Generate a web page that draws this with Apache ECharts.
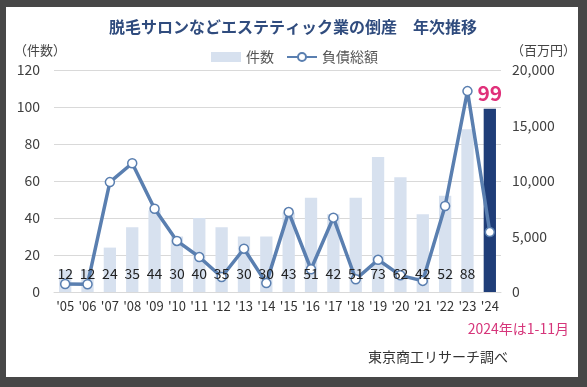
<!DOCTYPE html>
<html><head><meta charset="utf-8">
<script src="https://cdn.jsdelivr.net/npm/echarts@6/dist/echarts.min.js"></script>
<style>
html,body{margin:0;padding:0;background:#474747;}
#bg{position:absolute;left:6px;top:7px;width:572px;height:370px;background:#fff;}
#c{position:absolute;left:0;top:0;width:587px;height:387px;}
</style></head>
<body><div id="bg"></div><div id="c"></div>
<script>
const years = ["'05","'06","'07","'08","'09","'10","'11","'12","'13","'14","'15","'16","'17","'18","'19","'20","'21","'22","'23","'24"];
const counts = [12,12,24,35,44,30,40,35,30,30,43,51,42,51,73,62,42,52,88,99];
const debt = [720,700,9900,11600,7500,4600,3150,1350,3900,800,7200,2050,6700,1150,2900,1500,1000,7750,18100,5400];
const leftTicks = [0,20,40,60,80,100,120];
const rightTicks = [0,5000,10000,15000,20000];

const F = '"Noto Sans CJK JP","Noto Sans",sans-serif';
const chart = echarts.init(document.getElementById('c'));
const last = counts.length - 1;
chart.setOption({
  animation:false,
  textStyle:{fontFamily:F},
  grid:{left:54,right:86,top:70,bottom:95},
  legend:{left:206,top:45,itemWidth:30,itemHeight:10,itemGap:12,
    textStyle:{fontSize:14,color:'#555',fontFamily:F},
    data:[{name:'件数',icon:'rect'},{name:'負債総額'}]},
  xAxis:{type:'category',data:years,
    axisLine:{show:true,lineStyle:{color:'#d9d9d9'}},axisTick:{show:false},
    axisLabel:{fontSize:13,color:'#333',margin:8,interval:0,fontFamily:F}},
  yAxis:[
    {type:'value',min:0,max:120,interval:20,
     axisLabel:{fontSize:14,color:'#404040',margin:14,fontFamily:F},
     splitLine:{lineStyle:{color:'#d9d9d9'}},axisLine:{show:false},axisTick:{show:false}},
    {type:'value',min:0,max:20000,interval:5000,position:'right',
     axisLabel:{fontSize:14,color:'#404040',margin:11,fontFamily:F,
       formatter:v=>v.toLocaleString('en-US')},
     splitLine:{show:false},axisLine:{show:false},axisTick:{show:false}}
  ],
  series:[
    {name:'件数',type:'bar',z:1,barWidth:'55%',
     itemStyle:{color:'#d7e1ef'},
     data:counts.map((v,i)=> i===last ? {value:v,itemStyle:{color:'#1f3d78'}} : v)},
    {name:'負債総額',type:'line',yAxisIndex:1,z:3,data:debt,
     symbol:'circle',symbolSize:9,
     lineStyle:{color:'#5a7fb0',width:3.5},
     itemStyle:{color:'#fff',borderColor:'#5a7fb0',borderWidth:1.5},
     emphasis:{disabled:true}},
    {name:'lbl',type:'bar',z:5,barWidth:'55%',barGap:'-100%',silent:true,
     itemStyle:{color:'rgba(0,0,0,0)'},
     data:counts.map((v,i)=> i===last ?
       {value:v,label:{show:true,position:'top',distance:5,fontSize:21,fontWeight:'bold',color:'#e0307a',
         backgroundColor:'#fff',padding:[0,1]}} :
       {value:v,label:{show:true,position:'insideBottom',distance:11,fontSize:14,color:'#222'}}),
     label:{fontFamily:F}}
  ],
  graphic:[
    {type:'text',style:{x:293,y:27,text:'脱毛サロンなどエステティック業の倒産　年次推移',
      font:'bold 16px '+F,fill:'#304c7e',textAlign:'center',textVerticalAlign:'middle'}},
    {type:'text',style:{x:14,y:50,text:'（件数）',font:'13px '+F,fill:'#444',textVerticalAlign:'middle'}},
    {type:'text',style:{x:576,y:50,text:'（百万円）',font:'13px '+F,fill:'#444',textAlign:'right',textVerticalAlign:'middle'}},
    {type:'text',style:{x:569,y:329,text:'2024年は1-11月',font:'14px '+F,fill:'#d6357a',textAlign:'right',textVerticalAlign:'middle'}},
    {type:'text',style:{x:438,y:357,text:'東京商工リサーチ調べ',font:'14px '+F,fill:'#333',textAlign:'center',textVerticalAlign:'middle'}}
  ]
});
</script></body></html>
